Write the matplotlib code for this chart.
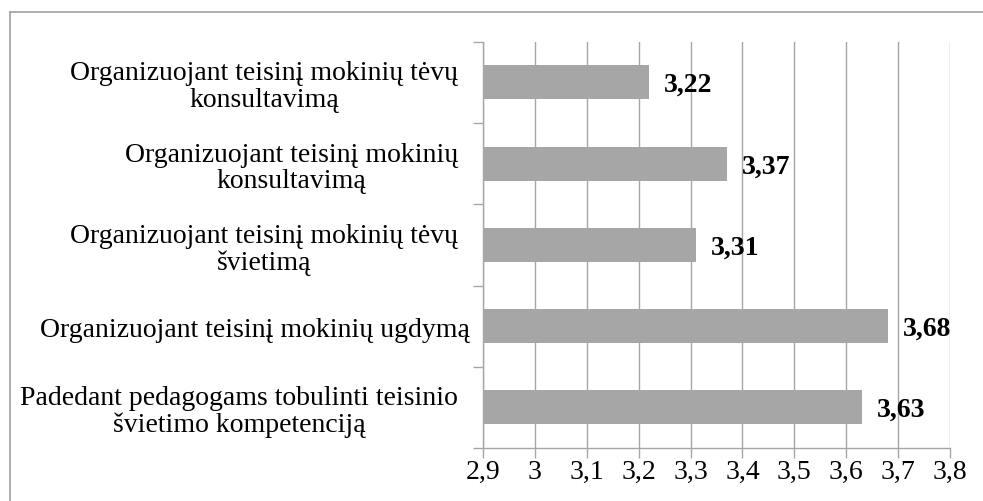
import matplotlib
matplotlib.use("Agg")
import matplotlib.pyplot as plt
from matplotlib.lines import Line2D
from matplotlib.transforms import ScaledTranslation

categories = [
    "Padedant pedagogams tobulinti teisinio\nšvietimo kompetenciją",
    "Organizuojant teisinį mokinių ugdymą",
    "Organizuojant teisinį mokinių tėvų\nšvietimą",
    "Organizuojant teisinį mokinių\nkonsultavimą",
    "Organizuojant teisinį mokinių tėvų\nkonsultavimą",
]
values = [3.63, 3.68, 3.31, 3.37, 3.22]
xticks = [2.9, 3.0, 3.1, 3.2, 3.3, 3.4, 3.5, 3.6, 3.7, 3.8]
xticklabels = ["2,9", "3", "3,1", "3,2", "3,3", "3,4", "3,5", "3,6", "3,7", "3,8"]
value_labels = ["3,63", "3,68", "3,31", "3,37", "3,22"]

plt.rcParams['font.family'] = ['Liberation Serif', 'DejaVu Serif']
FS = 20
W, H = 983, 502
fig = plt.figure(figsize=(W / 100, H / 100), dpi=100)
ax = fig.add_axes([483 / W, 1 - 449 / H, (950 - 483) / W, (449 - 42.8) / H])

grid_c = "#a6a6a6"
ypos = list(range(len(categories)))
ax.barh(ypos, values, height=0.42, color="#a6a6a6", zorder=3, left=0)
ax.set_xlim(2.9, 3.8)
ax.set_ylim(-0.5, len(categories) - 0.5)
ax.set_xticks(xticks)
ax.set_xticklabels(xticklabels, fontsize=FS)
ax.set_yticks([i - 0.5 for i in range(len(categories) + 1)])
ax.set_yticklabels([])
ax.set_yticks(ypos, minor=True)
ax.set_yticklabels(categories, minor=True, fontsize=FS, multialignment="center",
                   linespacing=1.08)
ax.tick_params(axis="y", which="minor", length=0, pad=18)
ax.tick_params(axis="y", which="major", length=7, color=grid_c, width=1)
ax.tick_params(axis="x", length=7, color=grid_c, width=1, pad=1)
ax.grid(axis="x", color=grid_c, linewidth=1, zorder=0)
for s in ["top", "right"]:
    ax.spines[s].set_visible(False)
for s in ["left", "bottom"]:
    ax.spines[s].set_color(grid_c)
    ax.spines[s].set_linewidth(1)

# single-line label sits a little further right in the reference
lbl = ax.get_yticklabels(minor=True)[1]
lbl.set_transform(lbl.get_transform() + ScaledTranslation(12 / 100, 0, fig.dpi_scale_trans))

for y, v, lab in zip(ypos, values, value_labels):
    ax.annotate(lab, (v, y), xytext=(11, -1.5), textcoords="offset points",
                va="center", ha="left", fontsize=FS, fontweight="bold", zorder=4)

fig.add_artist(Line2D([9.5 / W, 9.5 / W], [0, 1 - 13 / H], color="#a0a0a0", lw=1.2, transform=fig.transFigure))
fig.add_artist(Line2D([9.5 / W, 1], [1 - 13 / H, 1 - 13 / H], color="#a0a0a0", lw=1.2, transform=fig.transFigure))

fig.savefig("out.png", dpi=100)
